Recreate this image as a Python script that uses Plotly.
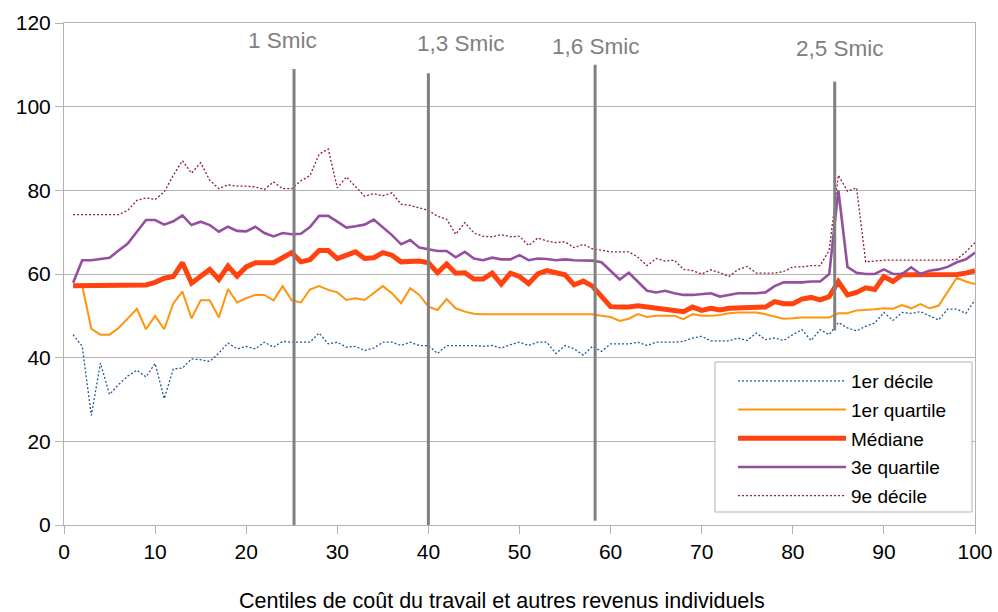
import plotly.graph_objects as go

# centiles 1..100
centiles = list(range(1, 101))

decile1 = [45.5, 42.7, 26.2, 38.7, 31.2, 33.6, 35.6, 37.0, 35.4, 38.6,
           30.2, 37.3, 37.5, 39.7, 39.5, 39.1, 41.1, 43.5, 42.1, 42.7,
           42.1, 43.7, 42.5, 43.9, 43.7, 43.7, 43.7, 45.9, 43.3, 43.7,
           42.5, 42.7, 41.7, 42.3, 43.7, 43.7, 42.9, 43.7, 42.9, 42.9,
           41.0, 42.9, 42.9, 42.9, 42.9, 42.7, 42.9, 42.3, 43.1, 43.7,
           42.9, 43.7, 43.7, 41.0, 42.9, 42.1, 40.6, 42.7, 41.5, 43.3,
           43.3, 43.3, 43.7, 42.9, 43.7, 43.7, 43.7, 43.9, 44.7, 45.1,
           44.0, 44.0, 44.0, 44.7, 44.1, 45.9, 44.3, 44.7, 44.1, 45.5,
           46.7, 44.1, 46.7, 45.5, 48.4, 47.1, 46.4, 47.5, 48.3, 50.8,
           48.9, 50.8, 50.6, 51.0, 50.0, 49.0, 51.6, 51.6, 50.6, 53.8]

quartile1 = [57.2, 57.2, 46.9, 45.5, 45.5, 47.1, 49.4, 51.7, 46.8, 50.0,
             46.8, 53.0, 55.8, 49.4, 53.7, 53.7, 49.6, 56.4, 53.2, 54.2,
             55.0, 55.0, 53.7, 57.1, 53.7, 53.2, 56.3, 57.1, 56.2, 55.6,
             53.8, 54.2, 53.8, 55.4, 57.1, 55.4, 53.0, 56.6, 55.0, 52.2,
             51.4, 54.0, 51.8, 51.0, 50.5, 50.4, 50.4, 50.4, 50.4, 50.4,
             50.4, 50.4, 50.4, 50.4, 50.4, 50.4, 50.4, 50.4, 50.0, 49.7,
             48.8, 49.3, 50.4, 49.7, 50.0, 50.0, 50.0, 49.2, 50.4, 50.0,
             50.0, 50.2, 50.6, 50.8, 50.8, 50.8, 50.4, 49.8, 49.3, 49.4,
             49.6, 49.6, 49.6, 49.6, 50.6, 50.6, 51.3, 51.4, 51.6, 51.8,
             51.7, 52.6, 51.8, 52.8, 51.8, 52.4, 55.8, 59.1, 58.2, 57.6]

mediane = [57.2, 57.2, 57.2, 57.2, 57.2, 57.2, 57.2, 57.3, 57.4, 58.0,
           59.0, 59.4, 62.7, 57.8, 59.4, 61.1, 58.7, 61.9, 59.5, 61.7,
           62.7, 62.7, 62.7, 63.9, 65.1, 62.9, 63.4, 65.6, 65.6, 63.7,
           64.5, 65.3, 63.7, 63.9, 65.1, 64.5, 62.9, 62.9, 63.1, 62.7,
           60.3, 62.4, 60.2, 60.3, 58.8, 58.8, 60.2, 57.6, 60.2, 59.4,
           57.7, 60.0, 60.8, 60.3, 59.8, 57.4, 58.3, 57.1, 54.6, 52.2,
           52.1, 52.1, 52.4, 52.1, 51.8, 51.6, 51.4, 51.0, 52.1, 51.3,
           51.8, 51.4, 51.8, 51.8, 51.8, 51.8, 52.1, 53.4, 52.9, 52.9,
           54.0, 54.4, 53.8, 54.6, 58.2, 55.0, 55.6, 56.7, 56.3, 59.4,
           58.2, 59.8, 59.8, 59.8, 59.8, 59.8, 59.9, 59.9, 60.2, 60.8]

quartile3 = [57.9, 63.3, 63.3, 63.6, 63.9, 65.6, 67.3, 70.1, 72.9, 72.9,
             71.8, 72.6, 74.0, 71.7, 72.5, 71.7, 70.1, 71.3, 70.3, 70.2,
             71.3, 69.8, 69.0, 69.8, 69.5, 69.6, 71.2, 73.9, 73.9, 72.5,
             71.1, 71.4, 71.8, 73.0, 71.1, 69.3, 67.1, 68.1, 66.3, 65.9,
             65.5, 65.5, 64.0, 65.3, 63.7, 63.3, 63.9, 63.5, 63.5, 64.5,
             63.3, 63.7, 63.6, 63.3, 63.5, 63.3, 63.3, 63.2, 62.8, 60.8,
             58.7, 60.3, 58.2, 56.0, 55.6, 56.0, 55.4, 55.0, 55.0, 55.2,
             55.4, 54.6, 55.0, 55.4, 55.4, 55.4, 55.6, 57.1, 58.0, 58.0,
             58.0, 58.2, 58.2, 60.0, 80.0, 61.7, 60.3, 60.0, 60.0, 61.1,
             60.0, 60.0, 61.6, 60.0, 60.8, 61.1, 61.7, 62.8, 63.5, 65.1]

decile9 = [74.2, 74.2, 74.2, 74.2, 74.2, 74.2, 75.2, 77.6, 78.2, 77.8,
           79.6, 83.6, 87.1, 84.1, 86.6, 82.4, 80.4, 81.3, 81.0, 81.0,
           80.8, 80.2, 82.0, 80.4, 80.4, 82.3, 83.5, 88.6, 89.9, 80.6,
           83.2, 81.0, 78.6, 79.2, 78.7, 79.4, 76.7, 76.4, 75.8, 75.2,
           73.8, 73.1, 69.5, 72.3, 69.8, 69.0, 68.9, 69.4, 68.9, 69.0,
           66.8, 68.6, 67.9, 67.5, 67.7, 66.3, 67.1, 66.0, 65.7, 65.3,
           65.3, 65.3, 64.0, 62.0, 63.7, 63.1, 63.3, 61.1, 60.8, 60.0,
           61.0, 60.3, 59.4, 61.1, 61.8, 60.2, 60.2, 60.2, 60.6, 61.7,
           61.7, 62.0, 62.0, 65.7, 83.6, 79.8, 80.6, 62.9, 63.1, 63.3,
           63.3, 63.3, 63.3, 63.3, 63.3, 63.3, 63.3, 63.5, 65.3, 67.5]

# Smic markers: label, position on x, top and bottom of the vertical line
smic_labels = ["1 Smic", "1,3 Smic", "1,6 Smic", "2,5 Smic"]
smic_x = [25.25, 40.0, 58.3, 84.6]
smic_top = [109, 108, 110, 106]
smic_bottom = [0, 0, 1, 46.5]
label_x = [24.0, 43.6, 58.4, 85.2]
label_y = [115.9, 115.2, 114.5, 113.8]

x_title = "Centiles de coût du travail et autres revenus individuels"

series = [
    ("1er décile", decile1, dict(color="#1d5a9a", width=1.3, dash="2px,2px")),
    ("1er quartile", quartile1, dict(color="#ff950e", width=2)),
    ("Médiane", mediane, dict(color="#ff420e", width=5)),
    ("3e quartile", quartile3, dict(color="#954f9f", width=2.6)),
    ("9e décile", decile9, dict(color="#8e1a44", width=1.3, dash="2px,2px")),
]

fig = go.Figure()
for i, (name, vals, line) in enumerate(series):
    fig.add_trace(go.Scatter(x=centiles, y=vals, mode="lines", name=name,
                             line=line, legendgroup=f"g{i}"))

for lab, x, top, bot, lx, ly in zip(smic_labels, smic_x, smic_top, smic_bottom, label_x, label_y):
    fig.add_shape(type="line", x0=x, x1=x, y0=bot, y1=top, xref="x", yref="y",
                  line=dict(color="#808080", width=3), layer="above")
    fig.add_annotation(x=lx, y=ly, text=lab, showarrow=False, xref="x", yref="y",
                       font=dict(size=22.5, color="#808080"))

# legend box
fig.add_shape(type="rect", xref="paper", yref="paper",
              x0=0.7146, x1=0.9967, y0=0.0259, y1=0.3247,
              line=dict(color="#b3b3b3", width=1), fillcolor="white", layer="above")

# x axis title, centred on the page like the original
fig.add_annotation(x=0.4808, y=-0.1514, xref="paper", yref="paper",
                   text=x_title, showarrow=False, yanchor="middle",
                   font=dict(size=21.5, color="black"))

fig.update_layout(
    width=998, height=612,
    margin=dict(l=64, r=23, t=23, b=87),
    paper_bgcolor="white", plot_bgcolor="white",
    font=dict(family="Liberation Sans, Arial, sans-serif", color="black"),
    legend=dict(x=0.7344, y=0.3247, xanchor="left", yanchor="top",
                bgcolor="rgba(0,0,0,0)", borderwidth=0,
                font=dict(size=19), itemwidth=108, tracegroupgap=1),
    showlegend=True,
)
fig.update_xaxes(range=[0, 100], tickvals=list(range(0, 101, 10)),
                 showgrid=False, showline=True, linecolor="#b3b3b3", mirror=True,
                 ticks="outside", ticklen=8, tickcolor="#b3b3b3",
                 tickfont=dict(size=21), zeroline=False, automargin=False)
fig.update_yaxes(range=[0, 120], tickvals=list(range(0, 121, 20)),
                 showgrid=True, gridcolor="#b3b3b3", gridwidth=1,
                 showline=True, linecolor="#b3b3b3", mirror=True,
                 ticks="outside", ticklen=8, tickcolor="#b3b3b3",
                 tickfont=dict(size=21), zeroline=False, automargin=False)

fig.write_html("out.html", config={"displayModeBar": False},
               post_script="document.body.style.margin='0';")
